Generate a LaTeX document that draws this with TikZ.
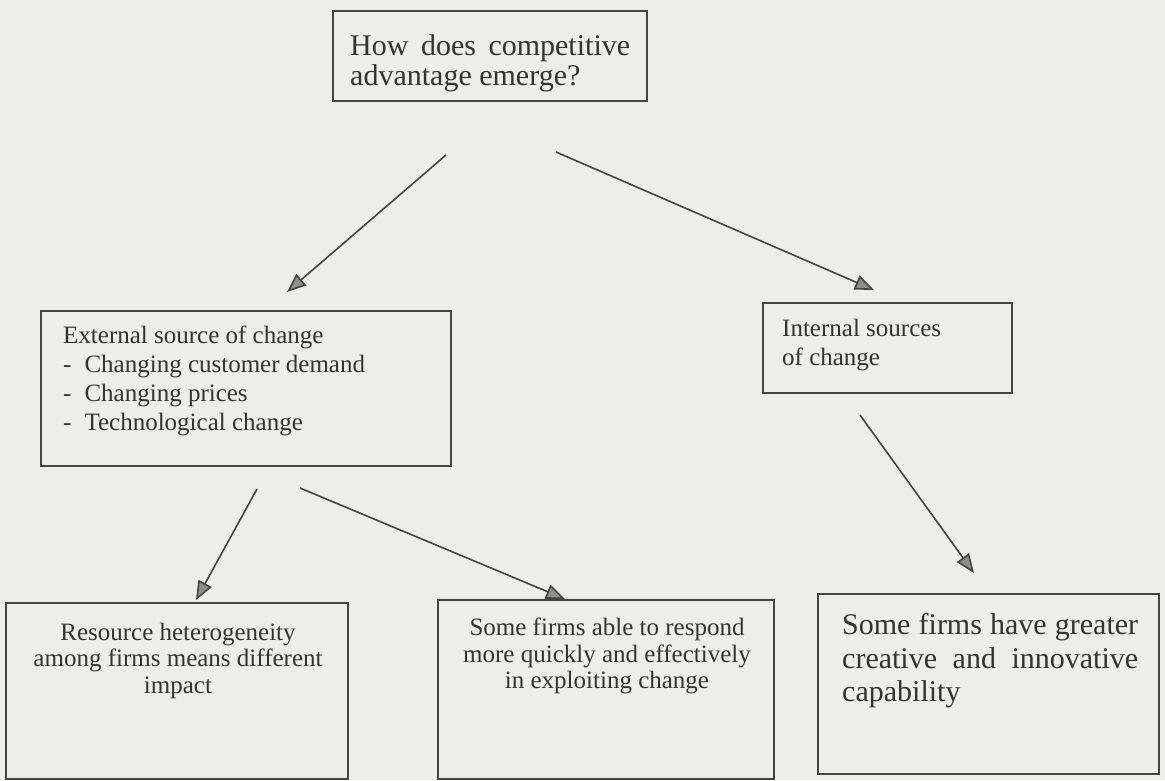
\documentclass[tikz,border=0pt]{standalone}
\usepackage{fontspec}
\setmainfont{Liberation Serif}
\usetikzlibrary{arrows.meta}
\definecolor{paper}{HTML}{EDEDEC}
\definecolor{ink}{HTML}{333333}
\definecolor{lineink}{HTML}{444444}
\definecolor{tipfill}{HTML}{8E8E8E}
\begin{document}
\begin{tikzpicture}[x=1pt,y=-1pt,
  boxnode/.style={draw=lineink,line width=1.8pt,minimum width=#1,anchor=north west,inner sep=0pt},
  txt/.style={text=ink,inner sep=0pt,anchor=base west,font=\fontsize{25}{27}\selectfont},
  ctxt/.style={text=ink,inner sep=0pt,anchor=base,font=\fontsize{25}{27}\selectfont},
  bigtxt/.style={text=ink,inner sep=0pt,anchor=base west,font=\fontsize{30}{31}\selectfont},
  conn/.style={draw=lineink,line width=1.6pt,-{Triangle[length=19pt,width=15pt,fill=tipfill]}}]
\fill[paper] (0,0) rectangle (1165,780);
\useasboundingbox (0,0) rectangle (1165,780);
% boxes
\node[boxnode=314pt,minimum height=90pt] (top) at (332,10) {};
\node[boxnode=410pt,minimum height=155pt] (ext) at (40,310) {};
\node[boxnode=249pt,minimum height=90pt] (int) at (762,302) {};
\node[boxnode=342pt,minimum height=176pt] (res) at (5,602) {};
\node[boxnode=336pt,minimum height=179pt] (some) at (437,599) {};
\node[boxnode=341pt,minimum height=180pt] (crea) at (817,593) {};
% texts
\node[bigtxt] (t1) at (350,55) {How \,does \,competitive};
\node[bigtxt] (t2) at (350,85) {advantage emerge?};
\node[txt] (e1) at (63,343) {External source of change};
\node[txt] (e2) at (63,372) {-\hspace{13pt}Changing customer demand};
\node[txt] (e3) at (63,401) {-\hspace{13pt}Changing prices};
\node[txt] (e4) at (63,430) {-\hspace{13pt}Technological change};
\node[txt] (i1) at (782,336) {Internal sources};
\node[txt] (i2) at (782,365) {of change};
\node[ctxt] (r1) at (178,640) {Resource heterogeneity};
\node[ctxt] (r2) at (178,666) {among firms means different};
\node[ctxt] (r3) at (178,693) {impact};
\node[ctxt] (s1) at (607,635) {Some firms able to respond};
\node[ctxt] (s2) at (607,662) {more quickly and effectively};
\node[ctxt] (s3) at (607,688) {in exploiting change};
\node[bigtxt] (c1) at (842,634) {\makebox[296pt][s]{Some firms have greater}};
\node[bigtxt] (c2) at (842,668) {\makebox[296pt][s]{creative and innovative}};
\node[bigtxt] (c3) at (842,701) {capability};
% connector ends
\coordinate (a1s) at (446,155);
\coordinate (a1e) at (287,292);
\coordinate (a2s) at (556,152);
\coordinate (a2e) at (874,290);
\coordinate (a3s) at (257,489);
\coordinate (a3e) at (196,600);
\coordinate (a4s) at (300,488);
\coordinate (a4e) at (565,599);
\coordinate (a5s) at (860,415);
\coordinate (a5e) at (974,573);
\draw[conn] (a1s) -- (a1e);
\draw[conn] (a2s) -- (a2e);
\draw[conn] (a3s) -- (a3e);
\draw[conn] (a4s) -- (a4e);
\draw[conn] (a5s) -- (a5e);
\end{tikzpicture}
\end{document}
